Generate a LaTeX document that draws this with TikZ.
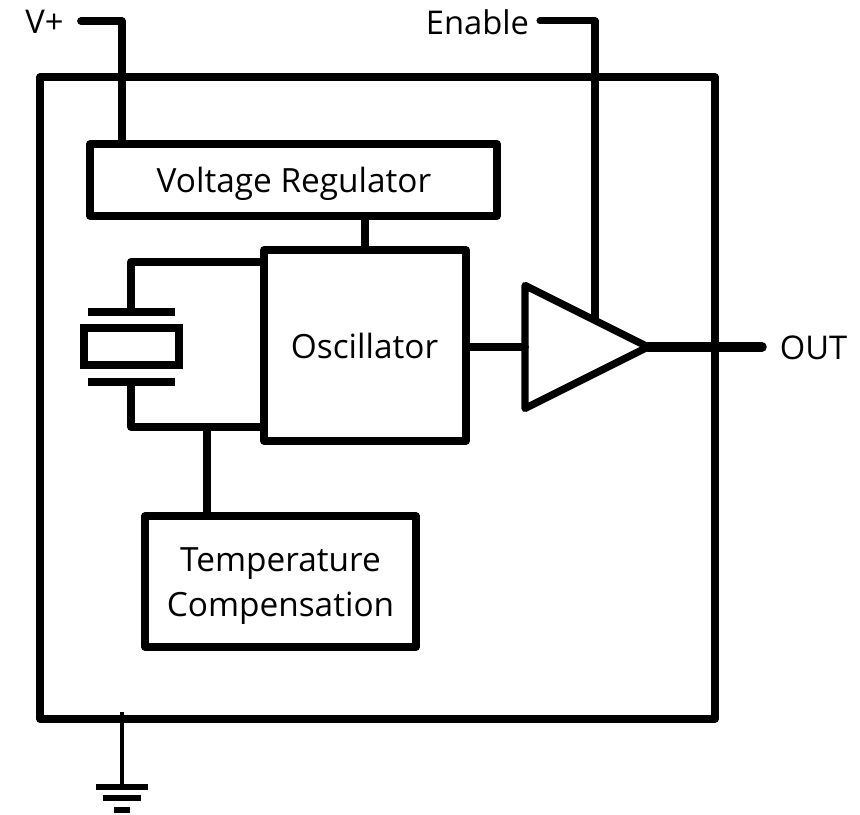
\documentclass[tikz,border=0pt]{standalone}
\usepackage{fontspec}
\setmainfont{Open Sans}
\usetikzlibrary{calc,positioning,shapes.geometric}
\tikzset{
  wire/.style={line width=2.2pt,line join=round,line cap=round},
  thinwire/.style={line width=1.4pt},
  plate/.style={line width=2.2pt},
  block/.style={draw,rectangle,line width=2.1pt,line join=round,inner sep=0pt,outer sep=0pt,align=center,font=\fontsize{9.5}{13}\selectfont},
  blocktext/.style={inner sep=0pt,align=center,font=\fontsize{9.5}{13}\selectfont},
  pinlabel/.style={inner sep=0pt,font=\fontsize{9.3}{13}\selectfont}
}

\begin{document}
\begin{tikzpicture}
    \useasboundingbox (0,0) rectangle (8.6,8.15);
    % Package and inner blocks
    \node[block,minimum width=6.75cm,minimum height=6.42cm] (package) at (3.775,4.17) {};
    \node[block,minimum width=4.07cm,minimum height=0.72cm] (vreg) at (2.935,6.35) {};
    \node[blocktext] (vregtext) at (2.94,6.31) {Voltage Regulator};
    \node[block,minimum width=2.02cm,minimum height=1.91cm] (osc) at (3.65,4.695) {};
    \node[blocktext] (osctext) at (3.645,4.69) {Oscillator};
    \node[block,minimum width=2.71cm,minimum height=1.31cm] (temp) at (2.805,2.335) {};
    \node[blocktext] (temptext) at (2.805,2.29) {Temperature\\Compensation};
    % Output buffer
    \node[draw,isosceles triangle,isosceles triangle stretches,shape border rotate=0,line width=2.1pt,line join=round,
      inner sep=0pt,outer sep=0pt,minimum width=1.23cm,minimum height=1.23cm,anchor=lower side] (amp) at (5.25,4.68) {};
    % Crystal
    \node[draw,rectangle,plate,inner sep=0pt,outer sep=0pt,minimum width=0.95cm,minimum height=0.37cm] (xtal) at (1.315,4.685) {};
    \coordinate (xtaltop) at (1.31,5.03);
    \coordinate (xtalbot) at (1.31,4.33);
    \coordinate (platetl) at (0.88,5.03);
    \coordinate (platetr) at (1.75,5.03);
    \coordinate (platebl) at (0.88,4.33);
    \coordinate (platebr) at (1.75,4.33);
    \draw[plate] (platetl) -- (platetr);
    \draw[plate] (platebl) -- (platebr);
    % Pin labels
    \node[pinlabel] (vplus) at (0.445,7.93) {V+};
    \node[pinlabel] (enable) at (4.775,7.93) {Enable};
    \node[pinlabel] (out) at (8.135,4.67) {OUT};
    % Free ends of the pin wires
    \coordinate (vend) at (0.81,7.94);
    \coordinate (vdrop) at (1.22,6.71);
    \coordinate (enend) at (5.40,7.94);
    \coordinate (endrop) at (5.95,4.95);
    \coordinate (outend) at (7.62,4.68);
    \coordinate (xup) at (2.64,5.53);
    \coordinate (xdown) at (2.64,3.88);
    \coordinate (tempup) at (2.07,3.88);
    % Wires
    \draw[wire] (vend) -| (vdrop);
    \draw[wire,line width=2pt] (enend) -| (endrop);
    \draw[wire,line width=2.7pt] (amp.apex) -- (outend);
    \draw[wire] (osc.east |- amp.lower side) -- (amp.lower side);
    \draw[wire] (vreg.south -| osc.north) -- (osc.north);
    \draw[wire] (xtaltop) |- (xup);
    \draw[wire] (xtalbot) |- (xdown);
    \draw[wire] (tempup) -- (tempup |- temp.north);
    % Ground
    \coordinate (gndtop) at (1.22,1.03);
    \coordinate (gndbot) at (1.22,0.28);
    \coordinate (gndal) at (0.96,0.28);
    \coordinate (gndar) at (1.48,0.28);
    \coordinate (gndbl) at (1.03,0.17);
    \coordinate (gndbr) at (1.41,0.17);
    \coordinate (gndcl) at (1.14,0.05);
    \coordinate (gndcr) at (1.30,0.05);
    \draw[thinwire] (gndtop) -- (gndbot);
    \draw[plate,line width=1.7pt] (gndal) -- (gndar);
    \draw[plate,line width=1.7pt] (gndbl) -- (gndbr);
    \draw[plate,line width=1.7pt] (gndcl) -- (gndcr);
  \end{tikzpicture}
\end{document}
